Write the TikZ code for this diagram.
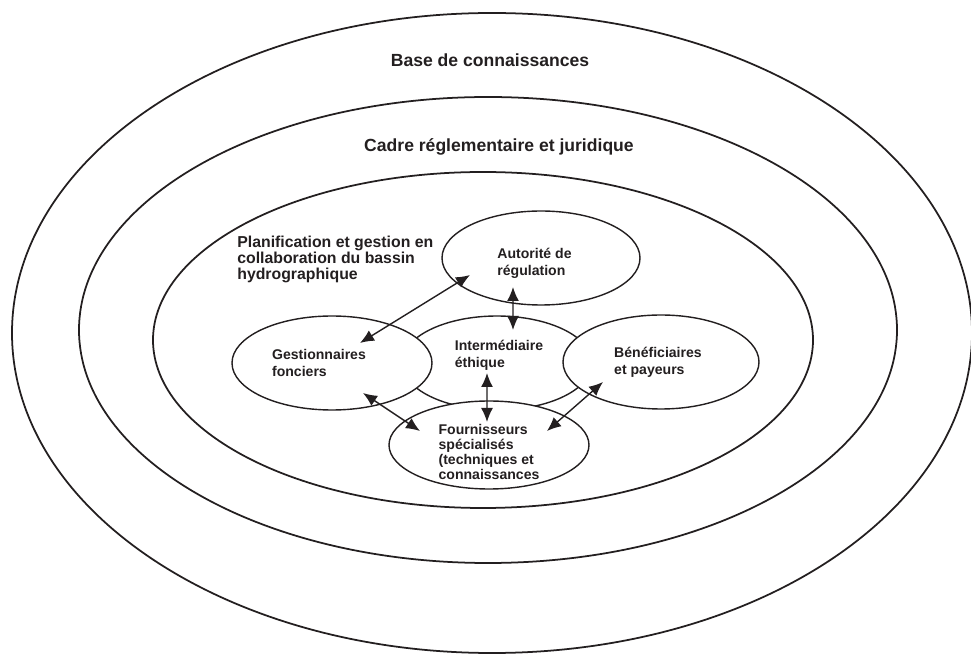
\documentclass[tikz,border=0pt]{standalone}
\usepackage{fontspec}
\setmainfont{Liberation Sans}
\usepackage{tikz}
\usetikzlibrary{shapes.geometric}
\usetikzlibrary{arrows.meta}
\definecolor{ink}{HTML}{231F20}
\tikzset{
  ring/.style={draw=ink, line width=1pt},
  actor/.style={ellipse, draw=ink, line width=0.8pt, fill=white,
    inner sep=0pt, minimum height=1.88cm},
  tag/.style={inner sep=0pt, align=left, text=ink,
    font=\bfseries\fontsize{8}{9.6}\selectfont},
  link/.style={{Latex[length=2.8mm,width=2.4mm]}-{Latex[length=2.8mm,width=2.4mm]},
    draw=ink, line width=0.8pt},
  title/.style={font=\bfseries\fontsize{10}{12}\selectfont, text=ink, inner sep=0pt}
}

\begin{document}
\begin{tikzpicture}
  \useasboundingbox (0,0) rectangle (19.42,13.1);

  % Rings: knowledge, legal frame, basin planning
  \draw[ring] (9.84,6.44) ellipse (9.6 and 6.4);
  \draw[ring] (9.76,6.5) ellipse (8.18 and 4.66);
  \draw[ring] (9.66,6.3) ellipse (6.6 and 3.36);

  % Labels: rings
  \node[title, anchor=base] (base) at (9.8,11.76) {Base de connaissances};
  \node[title, anchor=base] (cadre) at (9.98,10.06) {Cadre réglementaire et juridique};
  \node[title, anchor=north west, align=left,
    font=\bfseries\fontsize{9}{9.1}\selectfont] (plan) at (4.74,8.38)
    {Planification et gestion en\\collaboration du bassin\\hydrographique};

  % Actors: the middle one first, the others lie over it
  \node[actor, minimum width=3.8cm,
    label={[tag, xshift=0.04cm, yshift=0.16cm]center:{Intermédiaire\\éthique}}]
    (inter) at (9.94,5.84) {};
  \node[actor, minimum width=3.96cm,
    label={[tag, xshift=-0.13cm, yshift=-0.10cm]center:{Autorité de\\régulation}}]
    (auth) at (10.82,7.94) {};
  \node[actor, minimum width=4.0cm,
    label={[tag, xshift=-0.26cm]center:{Gestionnaires\\fonciers}}]
    (gest) at (6.64,5.84) {};
  \node[actor, minimum width=3.92cm,
    label={[tag, xshift=-0.06cm]center:{Bénéficiaires\\et payeurs}}]
    (bene) at (13.22,5.86) {};
  \node[actor, minimum width=4.0cm, minimum height=1.76cm,
    label={[tag, yshift=-0.14cm, font=\bfseries\fontsize{8}{8.7}\selectfont]center:%
      {Fournisseurs\\spécialisés\\(techniques et\\connaissances}}]
    (four) at (9.78,4.2) {};

  % Arrows: exchanges between actors
  \draw[link] ([shift={(0.56,0.40)}]gest.center) -- ([shift={(-1.42,-0.34)}]auth.center);
  \draw[link] ([shift={(-0.56,-0.58)}]auth.center) -- ([shift={(0.32,0.66)}]inter.center);
  \draw[link] ([shift={(-0.20,-0.20)}]inter.center) -- ([shift={(-0.04,0.46)}]four.center);
  \draw[link] ([shift={(0.62,-0.60)}]gest.center) -- ([shift={(-1.38,0.28)}]four.center);
  \draw[link] ([shift={(-1.16,-0.40)}]bene.center) -- ([shift={(1.16,0.28)}]four.center);

\end{tikzpicture}
\end{document}
